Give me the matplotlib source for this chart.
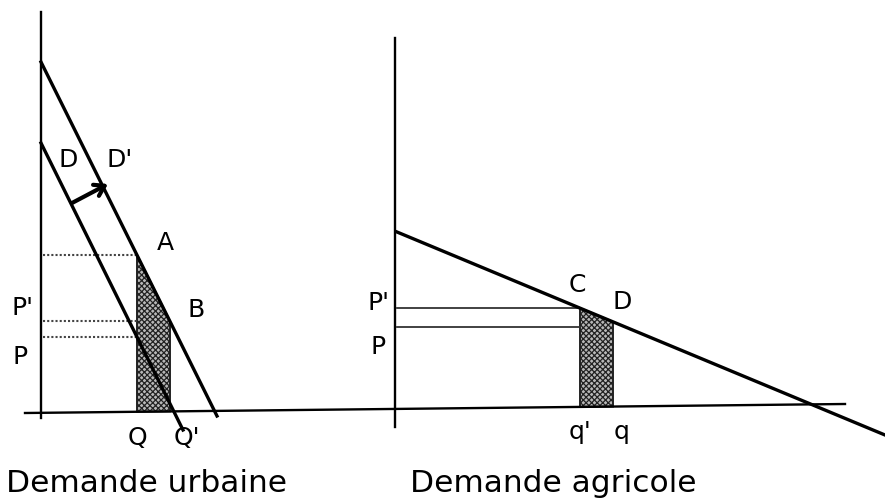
import numpy as np
import matplotlib.pyplot as plt
from matplotlib.patches import Polygon

# --- data (drawn in picture units: x to the right, y downward) ---
# shared quantity axis
base_x = [25, 845]
base_y = [413, 404]

# urban demand panel
urb_axis_x = [41, 41]
urb_axis_y = [12, 418]
d_urb_x = [41, 183]        # demand D
d_urb_y = [143, 430]
d2_urb_x = [41, 217]       # shifted demand D'
d2_urb_y = [62, 416]
q_urb = [137, 170]         # Q and Q'
arrow_from = [72, 203]
arrow_to = [108, 184]

# agricultural demand panel
agr_axis_x = [395, 395]
agr_axis_y = [38, 427]
d_agr_x = [397, 885]
d_agr_y = [232, 435]
q_agr = [580, 613]         # q' and q
p_agr_low = 327

urb_labels = [("D", 68, 160), ("D'", 120, 160), ("A", 165, 243), ("B", 196, 310),
              ("P'", 22, 308), ("P", 20, 357), ("Q", 137, 438), ("Q'", 187, 438)]
agr_labels = [("P'", 378, 303), ("P", 378, 347), ("C", 577, 285), ("D", 622, 302),
              ("q'", 580, 432), ("q", 622, 432)]
titles = [("Demande urbaine", 147, 483), ("Demande agricole", 553, 483)]

plt.rcParams['hatch.linewidth'] = 0.9

fig = plt.figure(figsize=(8.85, 4.99), dpi=100)
ax = fig.add_axes([0, 0, 1, 1])
ax.set_xlim(0, 885)
ax.set_ylim(499, 0)
ax.axis('off')

def yline(xs, ys, x):
    # y on a straight line through two points
    return ys[0] + (ys[1] - ys[0]) * (x - xs[0]) / (xs[1] - xs[0])

# axes
ax.plot(base_x, base_y, color='k', lw=1.7)
ax.plot(urb_axis_x, urb_axis_y, color='k', lw=1.7)
ax.plot(agr_axis_x, agr_axis_y, color='k', lw=1.7)

# --- urban panel ---
xa, xb = q_urb
ya = yline(d2_urb_x, d2_urb_y, xa)
yb = yline(d2_urb_x, d2_urb_y, xb)
yp = yline(d_urb_x, d_urb_y, xa)
poly = Polygon([(xa, ya), (xb, yb), (xb, yline(base_x, base_y, xb)), (xa, yline(base_x, base_y, xa))],
               closed=True, facecolor='#b8b8b8', edgecolor='#222222', hatch='xxxxxx', lw=1.4)
ax.add_patch(poly)
for y in [ya, yb, yp]:
    ax.plot([urb_axis_x[0] + 2, xa], [y, y], color='#444444', lw=1.5, ls=(0, (1, 1)))
ax.plot(d_urb_x, d_urb_y, color='k', lw=2.4)
ax.plot(d2_urb_x, d2_urb_y, color='k', lw=2.4)
ax.annotate('', xy=arrow_to, xytext=arrow_from,
            arrowprops=dict(arrowstyle='->,head_length=0.7,head_width=0.45', lw=3, color='k',
                            shrinkA=0, shrinkB=0))

# --- agricultural panel ---
xc, xd = q_agr
yc = yline(d_agr_x, d_agr_y, xc)
yd = yline(d_agr_x, d_agr_y, xd)
poly2 = Polygon([(xc, yc), (xd, yd), (xd, yline(base_x, base_y, xd)), (xc, yline(base_x, base_y, xc))],
                closed=True, facecolor='#b8b8b8', edgecolor='#222222', hatch='xxxxxx', lw=1.4)
ax.add_patch(poly2)
for y in [yc, p_agr_low]:
    ax.plot([agr_axis_x[0] + 2, xc], [y, y], color='#333333', lw=1.3)
ax.plot(d_agr_x, d_agr_y, color='k', lw=2.4)

for t, x, y in urb_labels + agr_labels:
    ax.text(x, y, t, fontsize=18, ha='center', va='center')
for t, x, y in titles:
    ax.text(x, y, t, fontsize=22.5, ha='center', va='center')

fig.savefig('out.png', dpi=100)
